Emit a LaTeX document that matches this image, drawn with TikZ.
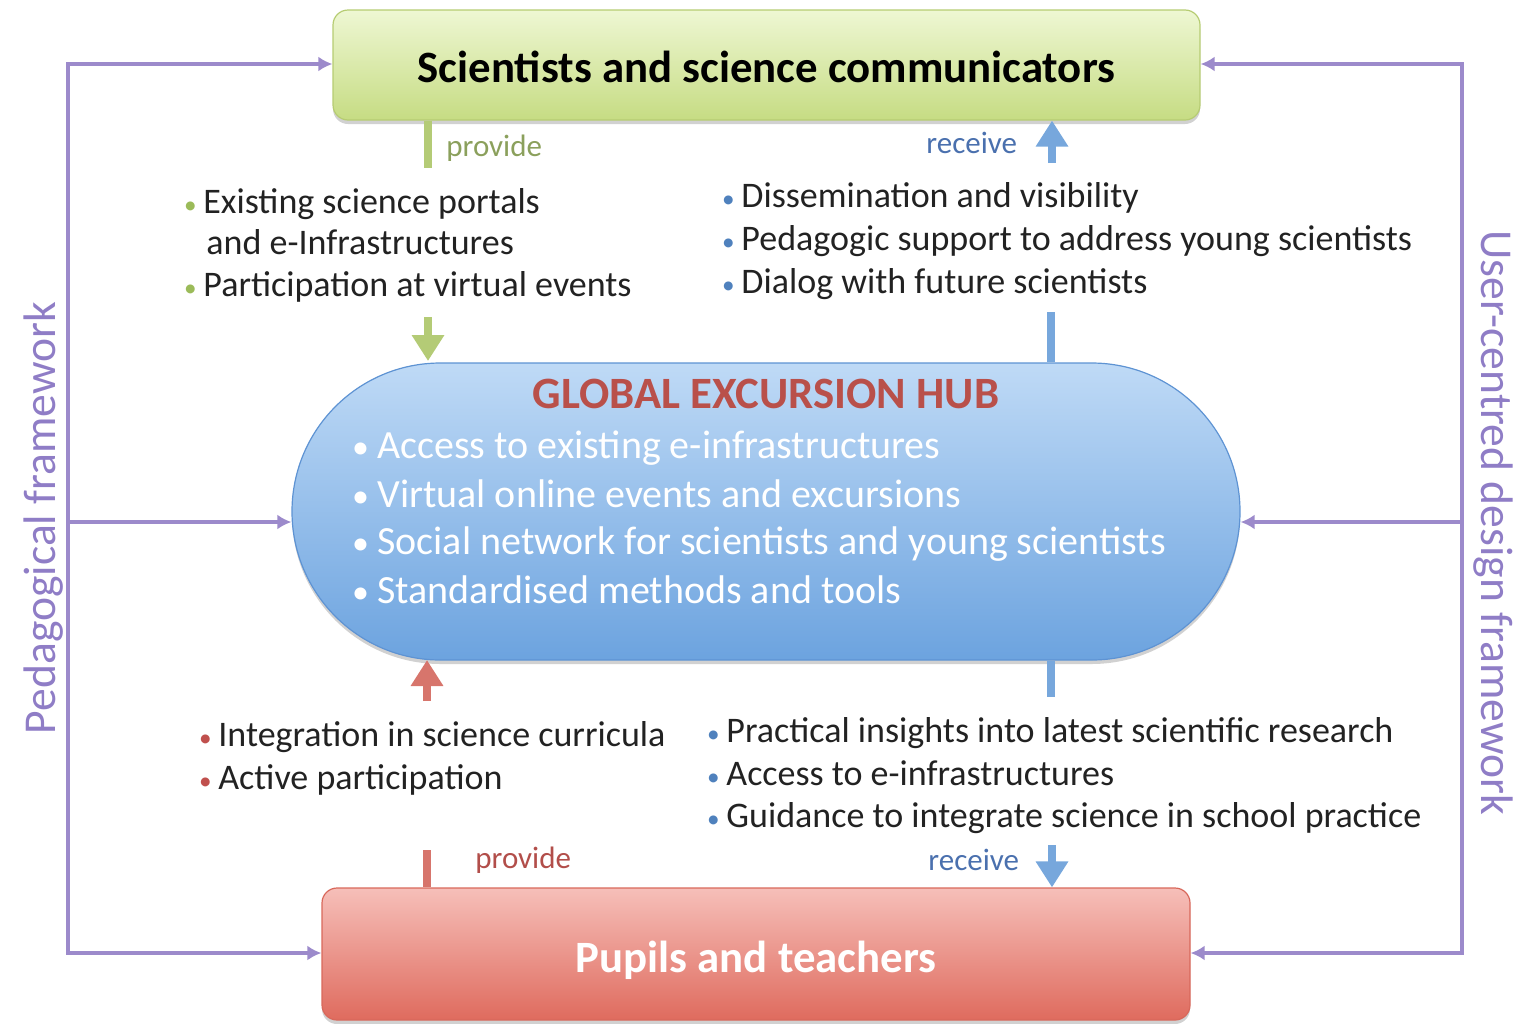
\documentclass[tikz,border=0pt]{standalone}
\usepackage{fontspec}
\setmainfont{Carlito}
\usetikzlibrary{arrows.meta,shapes.misc,shadows}
\definecolor{txtc}{HTML}{222222}
\definecolor{frm}{HTML}{9C8ACB}
\definecolor{frmtxt}{HTML}{8F7DC6}
\definecolor{gtop}{HTML}{EEF7D3}
\definecolor{gbot}{HTML}{C6DC83}
\definecolor{gedge}{HTML}{B6CC72}
\definecolor{htop}{HTML}{BFDAF6}
\definecolor{hbot}{HTML}{6CA3DF}
\definecolor{hedge}{HTML}{5E93D3}
\definecolor{rtop}{HTML}{F6BFB9}
\definecolor{rbot}{HTML}{DF6B5E}
\definecolor{redge}{HTML}{D8685B}
\definecolor{garr}{HTML}{B4CB76}
\definecolor{barr}{HTML}{77A7DC}
\definecolor{rarr}{HTML}{D7756C}
\definecolor{gtxt}{HTML}{8BA05C}
\definecolor{btxt}{HTML}{4A70AE}
\definecolor{rtxt}{HTML}{B24E4A}
\definecolor{hubttl}{HTML}{B9504A}
\definecolor{bgreen}{HTML}{9BBB59}
\definecolor{bblue}{HTML}{4F81BD}
\definecolor{bred}{HTML}{C0504D}
% #1 colour, #2 box width, #3 scale
\newcommand\bl[3]{\makebox[#2][l]{\hspace*{-0.6pt}\textcolor{#1}{\scalebox{#3}{\textbullet}}}}
\begin{document}
\begin{tikzpicture}[x=0.5pt,y=-0.5pt,
  frame/.style={draw=frm,line width=1.8pt,line cap=rect},
  farrow/.style={frame,-{Latex[length=7pt,width=7.5pt]}},
  fat/.style={line width=4pt,-{Triangle[length=13pt,width=15.5pt]}},
  stem/.style={line width=3.6pt},
  box/.style={rounded corners=7.5pt,inner sep=0pt,line width=0.6pt,
    drop shadow={shadow xshift=0pt,shadow yshift=-2pt,opacity=0.18,fill=black}},
  txt/.style={anchor=base west,inner sep=0pt,text=txtc,font=\fontsize{18}{21}\selectfont},
  hubtxt/.style={anchor=base west,inner sep=0pt,text=white,font=\fontsize{20}{24}\selectfont},
  lbl/.style={anchor=base west,inner sep=0pt,font=\fontsize{15.5}{18}\selectfont},
  vlbl/.style={anchor=base,inner sep=0pt,text=frmtxt,font=\fontsize{22.8}{26}\selectfont}]
\useasboundingbox (0,0) rectangle (1518,1023);

% main boxes
\node[box,top color=gtop,bottom color=gbot,draw=gedge,minimum width=433.5pt,minimum height=55pt,
  font=\bfseries\fontsize{22.4}{26}\selectfont,text=black,text height=17pt,text depth=0pt]
  (sci) at (766.5,65) {Scientists and science communicators};
\node[rounded rectangle,inner sep=0pt,top color=htop,bottom color=hbot,draw=hedge,line width=0.6pt,
  minimum width=474pt,minimum height=148.5pt,
  drop shadow={shadow xshift=0pt,shadow yshift=-2pt,opacity=0.18,fill=black}]
  (hub) at (766,511.5) {};
\node[box,top color=rtop,bottom color=rbot,draw=redge,minimum width=434pt,minimum height=66pt,
  font=\bfseries\fontsize{22.4}{26}\selectfont,text=white,text height=18pt,text depth=0pt]
  (pup) at (756,954) {Pupils and teachers};

% hub text
\node[anchor=base,inner sep=0pt,text=hubttl,font=\bfseries\fontsize{22.4}{26}\selectfont] (hubt) at (766,408) {GLOBAL EXCURSION HUB};
\node[hubtxt] (h1) at (353,458) {\bl{white}{12pt}{0.85}Access to existing e-infrastructures};
\node[hubtxt] (h2) at (353,507) {\bl{white}{12pt}{0.85}Virtual online events and excursions};
\node[hubtxt] (h3) at (353,554) {\bl{white}{12pt}{0.85}Social network for scientists and young scientists};
\node[hubtxt] (h4) at (353,603) {\bl{white}{12pt}{0.85}Standardised methods and tools};

% frame
\coordinate (ftl) at (68,64);
\coordinate (fml) at (68,522);
\coordinate (fbl) at (68,953);
\coordinate (ftr) at (1462,64);
\coordinate (fmr) at (1462,522);
\coordinate (fbr) at (1462,953);
\draw[farrow] (fbl) -- (ftl) -- (ftl -| sci.west);
\draw[farrow] (fbl) -- (fbl -| pup.west);
\draw[farrow] (fml) -- (fml -| hub.west);
\draw[farrow] (fbr) -- (ftr) -- (ftr -| sci.east);
\draw[farrow] (fbr) -- (fbr -| pup.east);
\draw[farrow] (fmr) -- (fmr -| hub.east);
\node[vlbl,rotate=90] (ped) at (55,518) {Pedagogical framework};
\node[vlbl,rotate=-90] (ucd) at (1481,522.5) {User-centred design framework};

% top connectors
\coordinate (gl1) at (428,168);
\draw[stem,draw=garr] (gl1 |- sci.south) -- (gl1);
\coordinate (ga) at (428,317);
\coordinate (gat) at (428,361);
\draw[fat,draw=garr] (ga) -- (gat);
\coordinate (ba) at (1052,163);
\draw[fat,draw=barr] (ba) -- (ba |- sci.south);
\coordinate (bl1) at (1051,312);
\draw[stem,draw=barr] (bl1) -- (bl1 |- hub.north);
\node[lbl,text=gtxt] (prov1) at (446,156) {provide};
\node[lbl,text=btxt] (rec1) at (926,153) {receive};

% bottom connectors
\coordinate (ra) at (427,701);
\coordinate (rat) at (427,660);
\draw[fat,draw=rarr] (ra) -- (rat);
\coordinate (bl2) at (1051,697);
\draw[stem,draw=barr] (bl2 |- hub.south) -- (bl2);
\coordinate (rl) at (427,850);
\draw[stem,draw=rarr] (rl) -- (rl |- pup.north);
\coordinate (bb) at (1052,845);
\draw[fat,draw=barr] (bb) -- (bb |- pup.north);
\node[lbl,text=rtxt] (prov2) at (475,868) {provide};
\node[lbl,text=btxt] (rec2) at (928,870) {receive};

% top-left list
\node[txt] (tl1) at (185,213) {\bl{bgreen}{9pt}{0.7}Existing science portals};
\node[txt] (tl2) at (206,254) {and e-Infrastructures};
\node[txt] (tl3) at (185,296) {\bl{bgreen}{9pt}{0.7}Participation at virtual events};
% top-right list
\node[txt] (tr1) at (723,207) {\bl{bblue}{9pt}{0.7}Dissemination and visibility};
\node[txt] (tr2) at (723,250) {\bl{bblue}{9pt}{0.7}Pedagogic support to address young scientists};
\node[txt] (tr3) at (723,293) {\bl{bblue}{9pt}{0.7}Dialog with future scientists};
% bottom-left list
\node[txt] (bl1t) at (200,746) {\bl{bred}{9pt}{0.7}Integration in science curricula};
\node[txt] (bl2t) at (200,789) {\bl{bred}{9pt}{0.7}Active participation};
% bottom-right list
\node[txt] (br1) at (708,742) {\bl{bblue}{9pt}{0.7}Practical insights into latest scientific research};
\node[txt] (br2) at (708,785) {\bl{bblue}{9pt}{0.7}Access to e-infrastructures};
\node[txt] (br3) at (708,827) {\bl{bblue}{9pt}{0.7}Guidance to integrate science in school practice};
\end{tikzpicture}
\end{document}
